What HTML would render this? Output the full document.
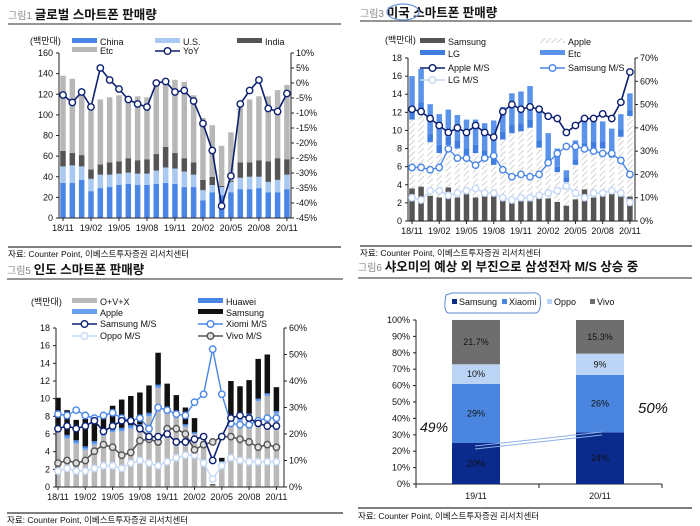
<!DOCTYPE html>
<html><head><meta charset="utf-8"><style>
body{margin:0;background:#fff;}
svg{display:block;font-family:"Liberation Sans","Noto Sans CJK KR",sans-serif;}
.t{font-size:9px;fill:#111}
.ttl{font-size:12.5px;font-weight:bold;fill:#111}
.pre{font-size:10px;fill:#888;font-weight:normal}
.src{font-size:8.5px;fill:#111}
</style></head><body>
<svg id="s" width="700" height="526" viewBox="0 0 700 526" xmlns="http://www.w3.org/2000/svg">
<defs><pattern id="hatch" patternUnits="userSpaceOnUse" width="4" height="4" patternTransform="rotate(45)"><rect width="4" height="4" fill="#fff"/><line x1="0" y1="0" x2="0" y2="4" stroke="#c8c8c8" stroke-width="1.6"/></pattern></defs>
<text x="8" y="19" class="ttl"><tspan class="pre">그림1 </tspan>글로벌 스마트폰 판매량</text>
<line x1="8" y1="24" x2="341" y2="24" stroke="#555" stroke-width="1.2"/>
<text x="360" y="17" class="ttl"><tspan class="pre">그림3 </tspan>미국 스마트폰 판매량</text>
<ellipse cx="403" cy="12" rx="16" ry="8" fill="none" stroke="#6f95d8" stroke-width="1.2"/>
<line x1="360" y1="21" x2="692" y2="21" stroke="#555" stroke-width="1.2"/>
<text x="7" y="274" class="ttl"><tspan class="pre">그림5 </tspan>인도 스마트폰 판매량</text>
<line x1="7" y1="279" x2="343" y2="279" stroke="#555" stroke-width="1.2"/>
<text x="358" y="271" class="ttl"><tspan class="pre">그림6 </tspan>샤오미의 예상 외 부진으로 삼성전자 M/S 상승 중</text>
<line x1="358" y1="278" x2="692" y2="278" stroke="#555" stroke-width="1.2"/>
<line x1="8" y1="247" x2="341" y2="247" stroke="#333" stroke-width="1.2"/>
<text x="8" y="257" class="src">자료: Counter Point, 이베스트투자증권 리서치센터</text>
<line x1="360" y1="246" x2="692" y2="246" stroke="#333" stroke-width="1.2"/>
<text x="360" y="256" class="src">자료: Counter Point, 이베스트투자증권 리서치센터</text>
<line x1="7" y1="513" x2="343" y2="513" stroke="#333" stroke-width="1.2"/>
<text x="7" y="523" class="src">자료: Counter Point, 이베스트투자증권 리서치센터</text>
<line x1="358" y1="508" x2="692" y2="508" stroke="#333" stroke-width="1.2"/>
<text x="358" y="519" class="src">자료: Counter Point, 이베스트투자증권 리서치센터</text>
</svg>
<script>
const months=['18/11','19/02','19/05','19/08','19/11','20/02','20/05','20/08','20/11'];
const c1China=[34,34,37,26,29,30,32,33,32,32,33,34,33,30,30,17,25,22,25,28,28,29,25,25,28];
const c1US=[16,17,13,12,13,12,11,11,11,11,13,15,15,15,12,10,7,8,10,11,12,11,10,12,14];
const c1India=[15,12,11,9,10,12,12,14,13,14,16,20,15,13,12,10,8,1,1,15,14,16,20,21,15];
const c1Total=[138,135,122,104,115,117,119,114,118,117,128,130,134,132,119,97,90,70,83,107,115,118,118,124,129];
const c1YoY=[-4,-6.5,-3,-8,5,1,-2,-5.5,-7,-8,0,0.5,-3,-2.5,-6,-13.5,-22.5,-41,-31,-7,-2.5,1,-8.5,-9.5,-3.5];
const c1LTicks=[0,20,40,60,80,100,120,140,160];
const c1RTicks=[10,5,0,-5,-10,-15,-20,-25,-30,-35,-40,-45];
const c2Samsung=[3.6,3.8,2.8,2.6,3.7,2.6,3.0,2.6,2.8,2.8,2.3,2.0,2.2,2.2,2.5,2.5,2.1,1.7,2.4,3.5,2.6,2.8,3.0,2.8,2.7];
const c2Apple=[7.6,8.0,5.9,4.9,4.7,5.4,4.1,4.9,4.2,3.4,6.7,7.7,7.7,8.1,5.6,3.7,3.3,2.6,3.8,4.3,5.4,5.2,4.0,6.5,8.9];
const c2LG=[1.2,1.3,0.9,0.9,0.9,0.9,0.9,0.9,0.8,0.9,0.9,0.9,0.9,0.9,0.8,0.7,0.6,0.5,0.6,0.8,0.8,0.8,0.8,0.8,0.6];
const c2Total=[16,16.8,12.9,11.8,12.3,11.7,11.2,11.2,10.8,11.1,12.6,14.1,14.3,14.9,12.7,9.7,8.0,5.6,8.9,11,11.6,11,10.2,11.8,14.1];
const c2AppleMS=[48,47,44,41,38,40,38,41,38,36,47,50,48,49,48,45,44,38,41,44,44,46,44,51,64];
const c2SamsungMS=[23,23,22,23,31,27,27,24,27,28,22,19,20,19,20,25,29,32,32,31,30,29,29,26,20];
const c2LGMS=[10,9,13,13,11,12,13,14,12,12,10,9,10,10,11,12,13,15,12,10,12,12,13,12,8];
const c2LTicks=[0,2,4,6,8,10,12,14,16,18];
const c2RTicks=[0,10,20,30,40,50,60,70];
const c3OVX=[6.5,5.5,4.9,4.2,4.8,5.8,6.2,6.3,6.6,6.7,8.0,11.2,8.4,8.0,6.8,6.0,5.0,0.2,2.8,7.0,7.5,8.0,9.7,10.3,8.3];
const c3Apple=[0.2,0.2,0.2,0.2,0.2,0.2,0.2,0.2,0.2,0.2,0.2,0.2,0.2,0.2,0.2,0.1,0.1,0,0.1,0.2,0.2,0.2,0.2,0.2,0.2];
const c3Huawei=[0.2,0.2,0.2,0.2,0.2,0.2,0.2,0.2,0.2,0.2,0.2,0.2,0.2,0.2,0.1,0.1,0.1,0,0,0.1,0.1,0.1,0.1,0.1,0.1];
const c3Total=[10.1,8.7,7.6,7.7,7.8,8.0,9.2,9.9,10.3,10.7,11.5,15.2,11.7,10.4,9.0,7.8,5.2,0.3,3.3,12.0,11.4,12.1,14.5,15.0,11.3];
const c3SamsungMS=[22,23,22,23,25,21,23,25,25,22,19,19,20,17,17,18,19,10,19,26,27,26,24,23,23];
const c3XiomiMS=[27.5,27,29,27,26,27,28,26,25,26,22,30,29,27.5,27,32,35,52,35,24,23.5,23.5,25,26,26];
const c3OppoMS=[6,7,6,6,7,8,8,7,9,10,9,8,9.5,11,12,12,9,3,8,11,10,9.5,9.5,9.5,9.5];
const c3VivoMS=[9,10,9,10,13.5,16,15,12,13,17.5,18,17,22,22,20,14,16,17,19,19,18,17,15,16,15];
const c3LTicks=[0,2,4,6,8,10,12,14,16,18];
const c3RTicks=[0,10,20,30,40,50,60];
const c4Cats=['19/11','20/11'];
const c4Series=['Samsung','Xiaomi','Oppo','Vivo'];
const c4Values=[[25,36,12,27],[31.5,35,13,20.5]];
const c4Labels=[['20%','29%','10%','21.7%'],['24%','26%','9%','15.3%']];
const c4Ticks=[0,10,20,30,40,50,60,70,80,90,100];

const S=document.getElementById('s');const NS='http://www.w3.org/2000/svg';
function mk(tag,attrs,name,inter){const el=document.createElementNS(NS,tag);for(const k in attrs)el.setAttribute(k,attrs[k]);


S.appendChild(el);return el;}
function txt(x,y,s,name,anchor,cls,fill){const e=mk('text',{x:x,y:y,class:cls||'t','text-anchor':anchor||'start'},name);if(fill)e.setAttribute('fill',fill);e.textContent=s;return e;}
function axes(x0,y0,y1,xr,lt,rt,yL,yR,xf,pre){
 mk('line',{x1:x0,y1:y0,x2:x0,y2:y1,stroke:'#222','stroke-width':1},pre+'-left-axis');
 mk('line',{x1:x0,y1:y0,x2:xr,y2:y0,stroke:'#222','stroke-width':1},pre+'-x-axis');
 mk('line',{x1:xr,y1:y0,x2:xr,y2:y1,stroke:'#222','stroke-width':1},pre+'-right-axis');
 lt.forEach(v=>{mk('line',{x1:x0-3,y1:yL(v),x2:x0,y2:yL(v),stroke:'#222'},pre+'-left-tick');txt(x0-6,yL(v)+3,String(v),pre+'-left-tick-label','end');});
 rt.forEach(v=>{mk('line',{x1:xr,y1:yR(v),x2:xr+3,y2:yR(v),stroke:'#222'},pre+'-right-tick');txt(xr+5,yR(v)+3,v+'%',pre+'-right-tick-label','start');});
 months.forEach((m,k)=>{const xx=xf(k*3);mk('line',{x1:xx,y1:y0,x2:xx,y2:y0+3,stroke:'#222'},pre+'-x-tick');txt(xx,y0+13,m,pre+'-x-tick-label','middle');});
}
function line(arr,xf,yf,color,w,mfill,name){const pts=arr.map((v,i)=>xf(i)+','+yf(v)).join(' ');
 mk('polyline',{points:pts,fill:'none',stroke:color,'stroke-width':w},name+'-line');
 arr.forEach((v,i)=>mk('circle',{cx:xf(i),cy:yf(v),r:3.2,fill:mfill,stroke:color,'stroke-width':1.4},name+'-point'));}
function legSw(x,y,fill,label,name){mk('rect',{x:x,y:y-4,width:25,height:5,fill:fill},name+'-swatch');txt(x+28,y+3,label,name+'-label');}
function legLn(x,y,color,label,name,mfill){mk('line',{x1:x,y1:y,x2:x+25,y2:y,stroke:color,'stroke-width':1.6},name+'-swatch');mk('circle',{cx:x+12.5,cy:y,r:3.3,fill:mfill||'#fff',stroke:color,'stroke-width':1.4},name+'-marker');txt(x+28,y+3,label,name+'-label');}

{const xf=i=>63+i*9.33,yL=v=>218-v*165/160,yR=p=>218-(p+45)*3;const bw=5.5;
 c1Total.forEach((t,i)=>{let b=0;const segs=[[c1China[i],'#4a86e8','china'],[c1US[i],'#a9c8f2','us'],[c1India[i],'#555','india'],[t-c1China[i]-c1US[i]-c1India[i],'#b7b7b7','etc']];
  segs.forEach(s=>{mk('rect',{x:xf(i)-bw/2,y:yL(b+s[0]),width:bw,height:Math.max(0,yL(b)-yL(b+s[0])),fill:s[1]},'c1-bar-'+s[2]);b+=s[0];});});
 axes(59,218,53,291,c1LTicks,c1RTicks,yL,yR,xf,'c1');
 line(c1YoY,xf,yR,'#0c1f70',1.6,'#fff','c1-yoy');
 txt(30,44,'(백만대)','c1-unit');
 legSw(72,42,'#4a86e8','China','c1-legend-china');legSw(155,42,'#a9c8f2','U.S.','c1-legend-us');legSw(237,42,'#555','India','c1-legend-india');
 legSw(72,51,'#b7b7b7','Etc','c1-legend-etc');legLn(155,51,'#0c1f70','YoY','c1-legend-yoy');}
{const xf=i=>412+i*9.08,yL=v=>221-v*163/18,yR=p=>221-p*163/70;const bw=5.5;
 c2Total.forEach((t,i)=>{let b=0;const segs=[[c2Samsung[i],'#555','samsung'],[c2Apple[i],'url(#hatch)','apple'],[c2LG[i],'#3f7de0','lg'],[t-c2Samsung[i]-c2Apple[i]-c2LG[i],'#5b93ea','etc']];
  segs.forEach(s=>{mk('rect',{x:xf(i)-bw/2,y:yL(b+s[0]),width:bw,height:Math.max(0,yL(b)-yL(b+s[0])),fill:s[1]},'c2-bar-'+s[2]);b+=s[0];});});
 axes(408,221,58,635,c2LTicks,c2RTicks,yL,yR,xf,'c2');
 line(c2LGMS,xf,yR,'#c5d8f5',1.4,'#fff','c2-lg-ms');
 line(c2SamsungMS,xf,yR,'#4a86e8',1.4,'#fff','c2-samsung-ms');
 line(c2AppleMS,xf,yR,'#0c1f70',1.6,'#fff','c2-apple-ms');
 txt(385,43,'(백만대)','c2-unit');
 legSw(420,42,'#555','Samsung','c2-legend-samsung');legSw(540,42,'url(#hatch)','Apple','c2-legend-apple');
 legSw(420,54,'#3f7de0','LG','c2-legend-lg');legSw(540,54,'#5b93ea','Etc','c2-legend-etc');
 legLn(420,68,'#0c1f70','Apple M/S','c2-legend-apple-ms');legLn(540,68,'#4a86e8','Samsung M/S','c2-legend-samsung-ms');
 legLn(420,80,'#c5d8f5','LG M/S','c2-legend-lg-ms');}
{const xf=i=>58+i*9.1,yL=v=>487-v*159/18,yR=p=>487-p*159/60;const bw=5.5;
 c3Total.forEach((t,i)=>{let b=0;const segs=[[c3OVX[i],'#b9b9b9','ovx'],[c3Apple[i],'#6a9ff0','apple'],[c3Huawei[i],'#3f7de0','huawei'],[Math.max(0,t-c3OVX[i]-c3Apple[i]-c3Huawei[i]),'#111','samsung']];
  segs.forEach(s=>{mk('rect',{x:xf(i)-bw/2,y:yL(b+s[0]),width:bw,height:Math.max(0,yL(b)-yL(b+s[0])),fill:s[1]},'c3-bar-'+s[2]);b+=s[0];});});
 axes(56,487,328,284,c3LTicks,c3RTicks,yL,yR,xf,'c3');
 line(c3OppoMS,xf,yR,'#c5d8f5',1.4,'#fff','c3-oppo-ms');
 line(c3VivoMS,xf,yR,'#555',1.6,'#ddd','c3-vivo-ms');
 line(c3XiomiMS,xf,yR,'#4a86e8',1.4,'#fff','c3-xiomi-ms');
 line(c3SamsungMS,xf,yR,'#0c1f70',1.6,'#fff','c3-samsung-ms');
 txt(31,305,'(백만대)','c3-unit');
 legSw(72,302,'#b9b9b9','O+V+X','c3-legend-ovx');legSw(198,302,'#4a86e8','Huawei','c3-legend-huawei');
 legSw(72,313,'#6a9ff0','Apple','c3-legend-apple');legSw(198,313,'#111','Samsung','c3-legend-samsung');
 legLn(72,324,'#0c1f70','Samsung M/S','c3-legend-samsung-ms');legLn(198,324,'#4a86e8','Xiomi M/S','c3-legend-xiomi-ms');
 legLn(72,336,'#c5d8f5','Oppo M/S','c3-legend-oppo-ms');legLn(198,336,'#555','Vivo M/S','c3-legend-vivo-ms','#ddd');}
{const y4=p=>484-p*1.64,cx=[476,600],bw=48;const cols=['#0a2a8c','#4a86e0','#bcd4f6','#6e6e6e'];const tcol=['#fff','#111','#111','#111'];
 mk('line',{x1:416,y1:320,x2:416,y2:484,stroke:'#222'},'c4-y-axis');
 mk('line',{x1:416,y1:484,x2:662,y2:484,stroke:'#222'},'c4-x-axis');
 c4Ticks.forEach(v=>{mk('line',{x1:413,y1:y4(v),x2:416,y2:y4(v),stroke:'#222'},'c4-y-tick');txt(410,y4(v)+3,v+'%','c4-y-tick-label','end');});
 [416,539,662].forEach(x=>mk('line',{x1:x,y1:484,x2:x,y2:488,stroke:'#222'},'c4-x-tick'));
 c4Cats.forEach((c,i)=>{let b=0;c4Values[i].forEach((v,j)=>{mk('rect',{x:cx[i]-bw/2,y:y4(b+v),width:bw,height:y4(b)-y4(b+v),fill:cols[j]},'c4-bar-'+c4Series[j].toLowerCase());
  txt(cx[i],(y4(b)+y4(b+v))/2+3,c4Labels[i][j],'c4-value-label','middle','t',tcol[j]);b+=v;});
  txt(cx[i],499,c,'c4-x-tick-label','middle');});
 c4Series.forEach((s,j)=>{const x=[452,502,547,590][j];mk('rect',{x:x,y:299,width:5,height:5,fill:cols[j]},'c4-legend-swatch');txt(x+7,305,s,'c4-legend-label');});
 mk('path',{d:'M446 295 Q443 311 448 313 L536 313 Q542 311 540 296 Q538 292 530 293 L452 293 Z',fill:'none',stroke:'#5c87d6','stroke-width':1},'c4-legend-annotation');
 mk('path',{d:'M475 446 L602 432 M475 449 L602 435',fill:'none',stroke:'#8fb0e6','stroke-width':1},'c4-trend-annotation');
 txt(420,432,'49%','c4-handwritten-49','start','t','#6f95d8').setAttribute('style','font-size:14px;font-style:italic');
 txt(638,413,'50%','c4-handwritten-50','start','t','#6f95d8').setAttribute('style','font-size:15px;font-style:italic');}
</script>
</body></html>
